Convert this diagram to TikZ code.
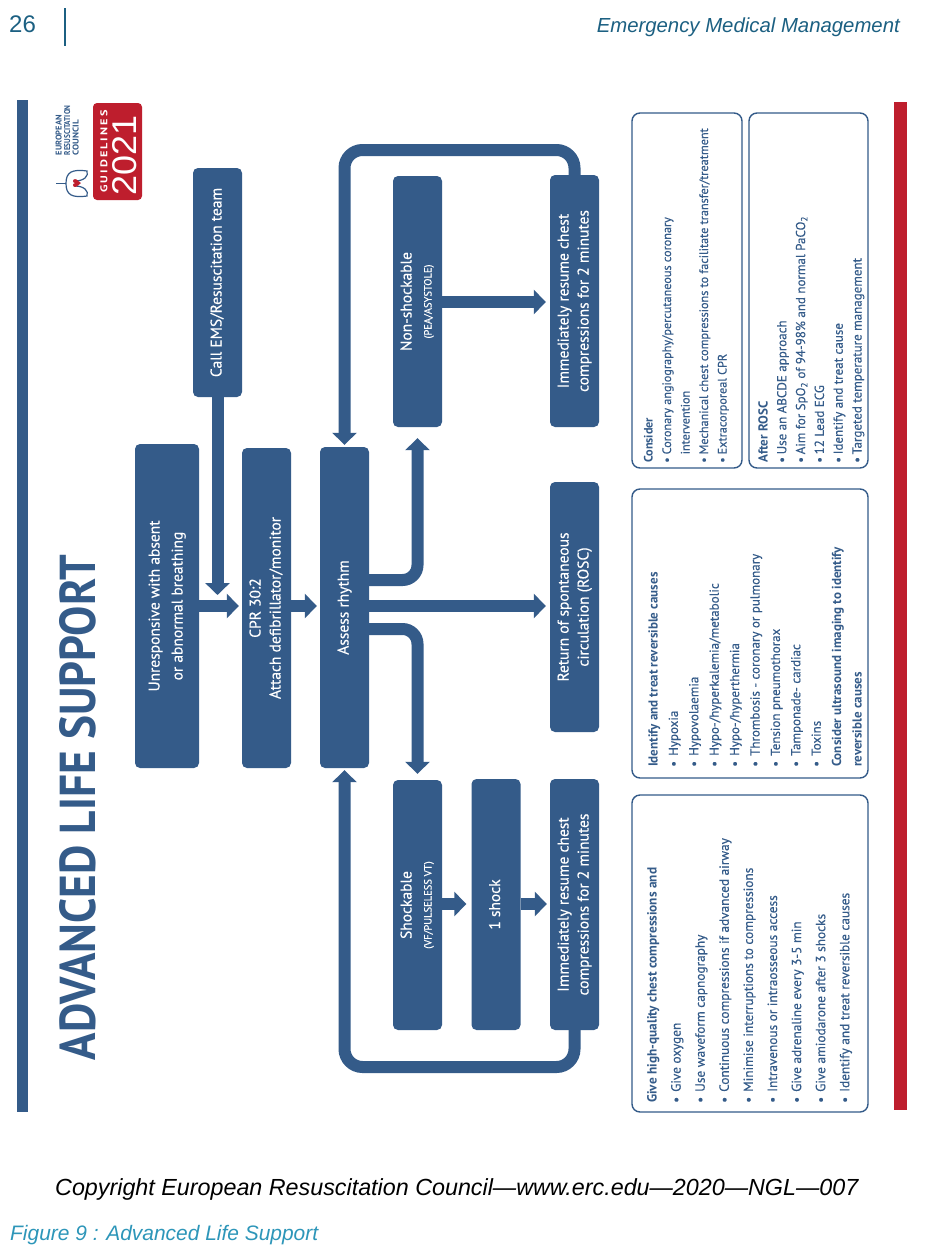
\documentclass[tikz,border=0pt]{standalone}
\usepackage{fontspec}
\usepackage{graphicx}
\setmainfont{PT Sans}[UprightFeatures={FakeBold=0.3}]
\newfontfamily\hfont{Liberation Sans}
\newfontfamily\djv{DejaVu Sans}
\usetikzlibrary{arrows.meta}
\definecolor{ercblue}{RGB}{52,91,137}
\definecolor{ercred}{RGB}{190,30,45}
\definecolor{tealA}{RGB}{28,96,130}
\definecolor{tealB}{RGB}{45,150,185}
\newcommand{\rl}[1]{\rotatebox{90}{\begin{tabular}{@{}c@{}}#1\end{tabular}}}
\newlength{\bind}
\newcommand{\hd}[1]{\hbox{\bfseries #1}}
\newcommand{\bi}[1]{\hbox{\makebox[\bind][l]{\textbullet}#1}}
\newcommand{\ci}[1]{\hbox{\hspace{\bind}#1}}
\newcommand{\ercline}[2]{\hbox{\resizebox{#1}{6pt}{\bfseries #2}}}
\begin{document}
\begin{tikzpicture}[x=1pt,y=-1pt,
  box/.style={fill=ercblue, rounded corners=5pt, inner sep=0pt, text=white, font=\fontsize{15.5}{20}\selectfont},
  arr/.style={draw=ercblue, line width=12pt, -{Triangle[width=24pt,length=12pt]}, shorten >=3pt},
  panel/.style={draw=ercblue, line width=1.4pt, fill=white, rounded corners=8pt, inner sep=0pt},
  ptext/.style={rotate=90, anchor=base west, inner sep=0pt, text=ercblue}
]
\useasboundingbox (0,0) rectangle (925,1250);
\fill[white] (0,0) rectangle (925,1250);

% header
\node[anchor=base west, inner sep=0pt, text=tealA, font=\hfont\fontsize{24}{24}\selectfont] (pg) at (9,32) {26};
\draw[tealA, line width=2pt] (65,8) -- (65,46);
\node[anchor=base east, inner sep=0pt, text=tealA] (hdr) at (900,32) {\resizebox{303pt}{!}{\hfont\itshape Emergency Medical Management}};

% side bars
\fill[ercblue] (17,100) rectangle (28,1112);
\fill[ercred] (894,102) rectangle (907,1110);

% title
\node[rotate=90, inner sep=0pt, text=ercblue] (title) at (78,807.5) {\resizebox{505pt}{36pt}{\bfseries ADVANCED LIFE SUPPORT}};

% logo
\node[fill=ercred, rounded corners=4pt, minimum width=49pt, minimum height=97pt, inner sep=0pt] (logo) at (117.5,151.5) {};
\node[rotate=90, inner sep=0pt, text=white] (gl) at (104,151.5) {\resizebox{82pt}{7pt}{\bfseries G\,U\,I\,D\,E\,L\,I\,N\,E\,S}};
\node[rotate=90, inner sep=0pt, text=white] (yr) at (125,155) {\resizebox{80pt}{24pt}{\hfont 2021}};
\node[ptext, font=\fontsize{8}{8.5}\selectfont] (erc) at (61.5,155.5) {\vtop{\baselineskip=8.5pt\lineskiplimit=-5pt\ercline{40pt}{EUROPEAN}\ercline{50pt}{RESUSCITATION}\ercline{35pt}{COUNCIL}}};
\draw[ercblue, line width=1.2pt] (56,183.5) -- (66,183.5);
\draw[ercblue, line width=1.2pt] (66,183.5) .. controls (66,172) and (72,169) .. (87,171) .. controls (89,176) and (84,181) .. (75,181);
\draw[ercblue, line width=1.2pt] (66,183.5) .. controls (66,195) and (72,198) .. (87,196) .. controls (89,191) and (84,186) .. (75,186);
\node[rotate=90, inner sep=0pt, text=ercred, font=\djv\fontsize{11}{11}\selectfont] (heart) at (77,183.5) {♥};

% flow boxes
\node[box, minimum width=64pt, minimum height=324pt] (unresp) at (167,606) {\rl{Unresponsive with absent\\[3pt]or abnormal breathing}};
\node[box, minimum width=49pt, minimum height=229pt] (ems) at (217.5,282.5) {\rl{Call EMS/Resuscitation team}};
\node[box, minimum width=49pt, minimum height=320pt] (cpr) at (266.5,608) {\rl{CPR 30:2\\Attach defibrillator/monitor}};
\node[box, minimum width=49pt, minimum height=321pt] (assess) at (344.5,607.5) {\rl{Assess rhythm}};
\node[box, minimum width=49pt, minimum height=251pt] (nonshock) at (417.5,301.5) {\rl{Non-shockable\\{\fontsize{10.5}{11}\selectfont(PEA/ASYSTOLE)}}};
\node[box, minimum width=49pt, minimum height=252pt] (resume1) at (574.5,301) {\rl{Immediately resume chest\\compressions for 2 minutes}};
\node[box, minimum width=49pt, minimum height=250pt] (rosc) at (574.5,607) {\rl{Return of spontaneous\\circulation (ROSC)}};
\node[box, minimum width=49pt, minimum height=250pt] (shock) at (417.5,905) {\rl{Shockable\\{\fontsize{10.5}{11}\selectfont(VF/PULSELESS VT)}}};
\node[box, minimum width=49pt, minimum height=251pt] (oneshock) at (496,904.5) {\rl{1 shock}};
\node[box, minimum width=49pt, minimum height=251pt] (resume2) at (574.5,904.5) {\rl{Immediately resume chest\\compressions for 2 minutes}};

% helper coordinates
\coordinate (yems) at (0,595);
\coordinate (yrow) at (0,606);
\coordinate (yns) at (0,580);
\coordinate (ysh) at (0,629);
\coordinate (ytop) at (0,150);
\coordinate (ybot) at (0,1067);
\coordinate (ytopres) at (0,302);
\coordinate (ybotres) at (0,904);

% connectors
\draw[arr, shorten >=0pt] (ems.south) -- (ems.south |- yems);
\draw[arr] (unresp.east |- yrow) -- (cpr.west |- yrow);
\draw[arr] (cpr.east |- yrow) -- (assess.west |- yrow);
\draw[arr, shorten >=4pt] (assess.east |- yrow) -- (rosc.west |- yrow);
\draw[arr, rounded corners=15pt, shorten >=11pt] (assess.east |- yns) -| (nonshock.south);
\draw[arr, rounded corners=15pt, shorten >=6pt] (assess.east |- ysh) -| (shock.north);
\draw[arr, shorten >=4pt] (nonshock.east |- ytopres) -- (resume1.west |- ytopres);
\draw[arr, shorten >=5pt] (shock.east |- ybotres) -- (oneshock.west |- ybotres);
\draw[arr] (oneshock.east |- ybotres) -- (resume2.west |- ybotres);
\draw[arr, rounded corners=18pt, shorten >=2pt] (resume1.north) |- (assess.north |- ytop) -- (assess.north);
\draw[arr, rounded corners=18pt, shorten >=2pt] (resume2.south) |- (assess.south |- ybot) -- (assess.south);

% panels
\node[panel, minimum width=236pt, minimum height=317pt] (pa) at (750,953.5) {};
\node[panel, minimum width=236pt, minimum height=289pt] (pb) at (750,633.5) {};
\node[panel, minimum width=110pt, minimum height=355pt] (pc) at (687,290.5) {};
\node[panel, minimum width=119pt, minimum height=355pt] (pd) at (808.5,290.5) {};

\setlength{\bind}{11pt}
\node[ptext, font=\fontsize{13.3}{24}\selectfont] (ta) at (656.5,1103) {\vtop{\baselineskip=24.1pt\lineskiplimit=-20pt
\hd{Give high-quality chest compressions and}
\bi{Give oxygen}
\bi{Use waveform capnography}
\bi{Continuous compressions if advanced airway}
\bi{Minimise interruptions to compressions}
\bi{Intravenous or intraosseous access}
\bi{Give adrenaline every 3-5 min}
\bi{Give amiodarone after 3 shocks}
\bi{Identify and treat reversible causes}}};

\node[ptext, font=\fontsize{13}{20}\selectfont] (tb) at (657.5,767) {\vtop{\baselineskip=20.4pt\lineskiplimit=-20pt
\hd{Identify and treat reversible causes}
\bi{Hypoxia}
\bi{Hypovolaemia}
\bi{Hypo-/hyperkalemia/metabolic}
\bi{Hypo-/hyperthermia}
\bi{Thrombosis - coronary or pulmonary}
\bi{Tension pneumothorax}
\bi{Tamponade- cardiac}
\bi{Toxins}
\hd{Consider ultrasound imaging to identify}
\hd{reversible causes}}};

\setlength{\bind}{8.5pt}
\node[ptext, font=\fontsize{12.2}{18}\selectfont] (tc) at (652.5,463) {\vtop{\baselineskip=18.5pt\lineskiplimit=-20pt
\hd{Consider}
\bi{Coronary angiography/percutaneous coronary}
\ci{intervention}
\bi{Mechanical chest compressions to facilitate transfer/treatment}
\bi{Extracorporeal CPR}}};

\node[ptext, font=\fontsize{13}{18}\selectfont] (td) at (767.5,463) {\vtop{\baselineskip=18.8pt\lineskiplimit=-20pt
\hd{After ROSC}
\bi{Use an ABCDE approach}
\bi{Aim for SpO\textsubscript{2} of 94-98\% and normal PaCO\textsubscript{2}}
\bi{12 Lead ECG}
\bi{Identify and treat cause}
\bi{Targeted temperature management}}};

% footer
\node[anchor=base west, inner sep=0pt, text=black] (copy) at (55,1195) {\resizebox{803pt}{!}{\hfont\itshape Copyright European Resuscitation Council—www.erc.edu—2020—NGL—007}};
\node[anchor=base west, inner sep=0pt, text=tealB] (fig) at (10,1240) {\resizebox{308pt}{!}{\hfont\itshape Figure 9 : Advanced Life Support}};
\end{tikzpicture}
\end{document}
